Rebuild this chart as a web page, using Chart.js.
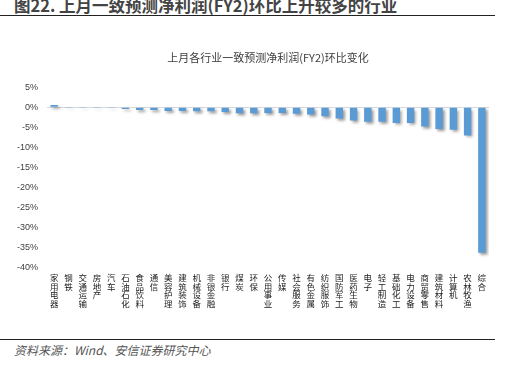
<!DOCTYPE html>
<html>
<head>
<meta charset="utf-8">
<script src="https://cdn.jsdelivr.net/npm/chart.js@4.4.1/dist/chart.umd.min.js"></script>
<style>
    body { margin: 0; width: 505px; height: 367px; background: #fff; position: relative; overflow: hidden;
           font-family: "Noto Sans CJK SC", "Liberation Sans", sans-serif; }
    #kop { position: absolute; left: 14px; top: -7px; font-size: 16.5px; font-weight: bold; color: #444; white-space: nowrap; }
    #lijn1 { position: absolute; left: 0; top: 15px; width: 495px; height: 0; border-top: 1.5px solid #222; }
    #lijn2 { position: absolute; left: 0; top: 339px; width: 495px; height: 0; border-top: 1.5px solid #222; }
    #bron { position: absolute; left: 14px; top: 341px; font-size: 12px; font-style: italic; color: #555; white-space: nowrap; }
    #grafiek-box { position: absolute; left: 0; top: 38px; width: 505px; height: 300px; }
</style>
</head>
<body>
<div id="kop">图22. 上月一致预测净利润(FY2)环比上升较多的行业</div>
<div id="lijn1"></div>
<div id="grafiek-box"><canvas id="Winst_Chart"></canvas></div>
<div id="lijn2"></div>
<div id="bron">资料来源：Wind、安信证券研究中心</div>

<script>
// Gegevens
const sectoren = ['家用电器', '钢铁', '交通运输', '房地产', '汽车', '石油石化', '食品饮料', '通信',
    '美容护理', '建筑装饰', '机械设备', '非银金融', '银行', '煤炭', '环保', '公用事业', '传媒',
    '社会服务', '有色金属', '纺织服饰', '国防军工', '医药生物', '电子', '轻工制造', '基础化工',
    '电力设备', '商贸零售', '建筑材料', '计算机', '农林牧渔', '综合'];
const wijziging = [0.6, -0.05, -0.2, -0.2, -0.2, -0.4, -0.7, -0.7, -0.9, -0.9, -1.0, -1.0, -1.2, -1.5,
    -1.5, -1.4, -1.4, -1.6, -1.8, -2.2, -2.8, -3.3, -3.6, -3.6, -3.9, -3.9, -4.8, -5.4, -5.6, -7.0, -36.2];
const grafiekTitel = '上月各行业一致预测净利润(FY2)环比变化';

// Schaduw onder de staven
const schaduwPlugin = {
    id: 'schaduw',
    beforeDatasetsDraw(chart) {
        const ctx = chart.ctx;
        ctx.save();
        ctx.shadowColor = 'rgba(0,0,0,0.4)';
        ctx.shadowBlur = 3;
        ctx.shadowOffsetX = 2;
        ctx.shadowOffsetY = 2;
    },
    afterDatasetsDraw(chart) {
        chart.ctx.restore();
    }
};

function tekenGrafiek() {
    var ctx = document.getElementById('Winst_Chart').getContext('2d');
    new Chart(ctx, {
        type: 'bar',
        data: {
            labels: sectoren.map(s => s.split('')), // tekens onder elkaar
            datasets: [{
                data: wijziging,
                backgroundColor: '#5B9BD5',
                barPercentage: 0.52,
                categoryPercentage: 1
            }]
        },
        options: {
            responsive: false,
            animation: false,
            layout: { padding: { left: 0, right: 16, top: 0, bottom: 0 } },
            plugins: {
                legend: { display: false },
                tooltip: { enabled: false },
                title: {
                    display: true,
                    text: grafiekTitel,
                    fullSize: false,
                    color: '#404040',
                    font: { size: 11, weight: 'normal', family: '"Noto Sans CJK SC", sans-serif' },
                    padding: { top: 13, bottom: 23 }
                }
            },
            scales: {
                x: {
                    grid: { display: false, drawTicks: false },
                    border: { display: false },
                    ticks: {
                        color: '#222',
                        autoSkip: false,
                        maxRotation: 0,
                        padding: 6,
                        font: { size: 8.5, family: '"Noto Sans CJK SC", sans-serif', lineHeight: 1.0 }
                    },
                    afterFit(scale) { scale.height = 70; }
                },
                y: {
                    min: -40,
                    max: 5,
                    grid: {
                        drawTicks: false,
                        color: ctx => ctx.tick.value === 0 ? '#d9d9d9' : 'rgba(0,0,0,0)'
                    },
                    border: { display: false },
                    ticks: {
                        stepSize: 5,
                        color: '#404040',
                        padding: 9,
                        font: { size: 9, family: '"Liberation Sans", sans-serif' },
                        callback: v => v + '%'
                    },
                    afterFit(scale) { scale.width = 47; }
                }
            }
        },
        plugins: [schaduwPlugin]
    });
}

const canvas = document.getElementById('Winst_Chart');
canvas.width = 505;
canvas.height = 300;
canvas.style.width = '505px';
canvas.style.height = '300px';

window.onload = function() {
    tekenGrafiek();
};
</script>
</body>
</html>
